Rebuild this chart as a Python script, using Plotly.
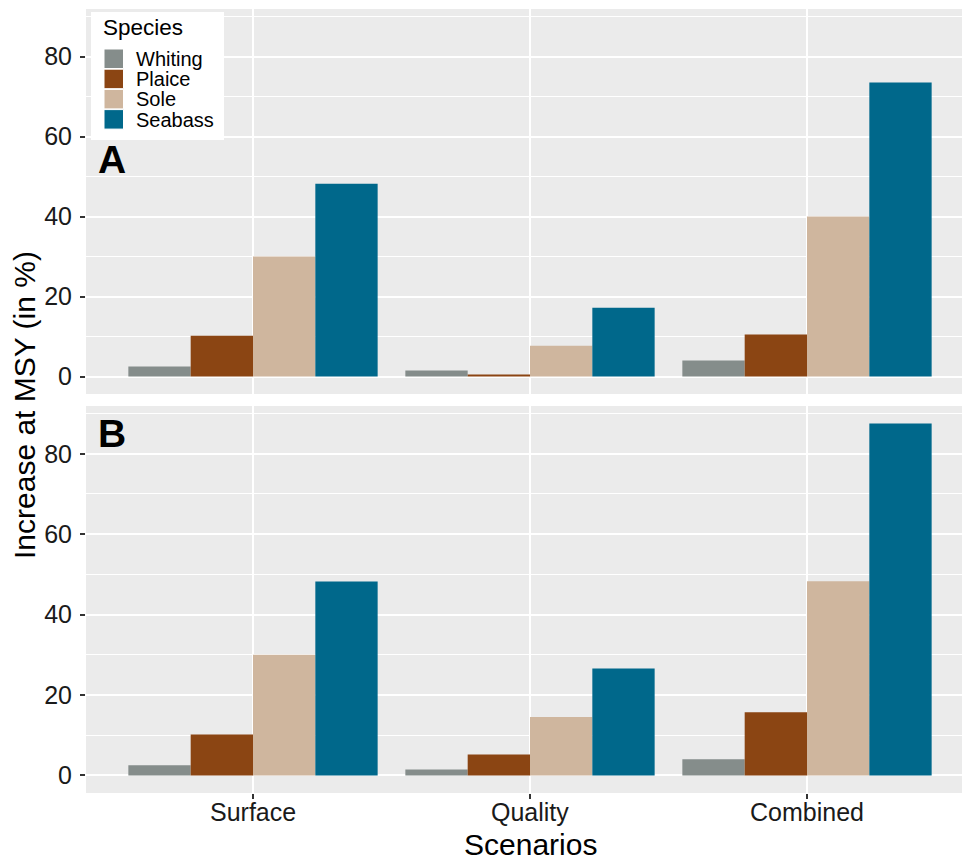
import plotly.graph_objects as go

# ---------------- data ----------------
scenarios = ["Surface", "Quality", "Combined"]
species = ["Whiting", "Plaice", "Sole", "Seabass"]
colors = ["#858D8B", "#8B4513", "#CFB69E", "#00688B"]

# Panel A
whiting_a = [2.5, 1.5, 4.0]
plaice_a = [10.2, 0.5, 10.5]
sole_a = [30.0, 7.7, 40.0]
seabass_a = [48.2, 17.2, 73.5]

# Panel B
whiting_b = [2.5, 1.5, 4.0]
plaice_b = [10.2, 5.2, 15.7]
sole_b = [30.0, 14.5, 48.3]
seabass_b = [48.2, 26.6, 87.5]

panel_a = [whiting_a, plaice_a, sole_a, seabass_a]
panel_b = [whiting_b, plaice_b, sole_b, seabass_b]

# ---------------- layout geometry ----------------
W, H = 962, 861
PL, PR, PT, PB = 86, 962, 9, 793   # plot area in screen pixels
ML, MT, MR = PL, PT, W - PR
MB = H - PB
PW, PH = PR - PL, PB - PT


def px_x(px):
    return (px - PL) / PW


def px_y(py):
    return (PB - py) / PH


FONT = "Liberation Sans, Arial, sans-serif"
PANEL_BG = "#EBEBEB"

fig = go.Figure()

for vals, col, name in zip(panel_a, colors, species):
    fig.add_trace(go.Bar(x=scenarios, y=vals, name=name, marker_color=col,
                         marker_line_width=0, xaxis="x", yaxis="y",
                         showlegend=False))
for vals, col, name in zip(panel_b, colors, species):
    fig.add_trace(go.Bar(x=scenarios, y=vals, name=name, marker_color=col,
                         marker_line_width=0, xaxis="x2", yaxis="y2",
                         showlegend=False))

yr = [-4.375, 91.875]
xr = [-(253 - PL) / 277, 2 + (PR - 807) / 277]

yax = dict(range=yr, tickmode="linear", tick0=0, dtick=20,
           showgrid=True, gridcolor="white", gridwidth=2,
           minor=dict(tick0=0, dtick=10, showgrid=True, gridcolor="white",
                      gridwidth=1, ticks=""),
           zeroline=False, ticks="outside", ticklen=5, tickwidth=1.5,
           tickcolor="#333333", showline=False,
           tickfont=dict(family=FONT, size=25, color="#1a1a1a"),
           ticklabelstandoff=3)
xax = dict(type="category", categoryorder="array", categoryarray=scenarios,
           range=xr, showgrid=True, gridcolor="white", gridwidth=2,
           zeroline=False, showline=False)

fig.update_layout(
    width=W, height=H,
    margin=dict(l=ML, r=MR, t=MT, b=MB),
    paper_bgcolor="white", plot_bgcolor=PANEL_BG,
    barmode="group", bargap=0.1, bargroupgap=0,
    showlegend=False,
    xaxis=dict(**xax, anchor="y", showticklabels=False, ticks=""),
    yaxis=dict(**yax, domain=[px_y(394), 1], anchor="x"),
    xaxis2=dict(**xax, anchor="y2", matches="x", ticks="outside", ticklen=5,
                tickwidth=1.5, tickcolor="#333333", showticklabels=False),
    yaxis2=dict(**yax, domain=[0, px_y(406)], anchor="x2"),
    font=dict(family=FONT, color="black"),
)

annotations = []
# x tick labels of the bottom panel
for s in scenarios:
    annotations.append(dict(text=s, xref="x2", yref="paper", x=s, y=px_y(812),
                            xanchor="center", yanchor="middle", showarrow=False,
                            font=dict(family=FONT, size=25, color="#1a1a1a")))
# Panel labels
annotations.append(dict(text="<b>A</b>", xref="x domain", yref="y domain",
                        x=0.011, y=0.61, xanchor="left", yanchor="middle",
                        showarrow=False, font=dict(family=FONT, size=39, color="black")))
annotations.append(dict(text="<b>B</b>", xref="x2 domain", yref="y2 domain",
                        x=0.011, y=0.928, xanchor="left", yanchor="middle",
                        showarrow=False, font=dict(family=FONT, size=39, color="black")))
# Axis titles
annotations.append(dict(text="Increase at MSY (in %)", xref="paper", yref="paper",
                        x=px_x(25), y=px_y(405), xanchor="center", yanchor="middle",
                        textangle=-90, showarrow=False,
                        font=dict(family=FONT, size=30, color="black")))
annotations.append(dict(text="Scenarios", xref="x2", yref="paper",
                        x="Quality", y=px_y(844), xanchor="center", yanchor="middle",
                        showarrow=False, font=dict(family=FONT, size=30, color="black")))

# Manual legend (ggplot-style keys)
shapes = []
shapes.append(dict(type="rect", xref="paper", yref="paper",
                   x0=px_x(91), x1=px_x(224), y0=px_y(140), y1=px_y(12),
                   fillcolor="white", line=dict(width=0), layer="above"))
annotations.append(dict(text="Species", xref="paper", yref="paper",
                        x=px_x(101), y=px_y(27), xanchor="left", yanchor="middle",
                        showarrow=False, font=dict(family=FONT, size=22.5, color="black")))
for i, (name, col) in enumerate(zip(species, colors)):
    top = 49 + i * 20.2
    shapes.append(dict(type="rect", xref="paper", yref="paper",
                       x0=px_x(104), x1=px_x(123.5), y0=px_y(top + 19.5), y1=px_y(top),
                       fillcolor=col, line=dict(width=1, color="white"), layer="above"))
    annotations.append(dict(text=name, xref="paper", yref="paper",
                            x=px_x(134), y=px_y(top + 10), xanchor="left", yanchor="middle",
                            showarrow=False, font=dict(family=FONT, size=20, color="black")))

fig.update_layout(annotations=annotations, shapes=shapes)

fig.write_html(
    "out.html",
    config={"displayModeBar": False},
    post_script="document.body.style.margin='0';document.body.style.overflow='hidden';",
)
